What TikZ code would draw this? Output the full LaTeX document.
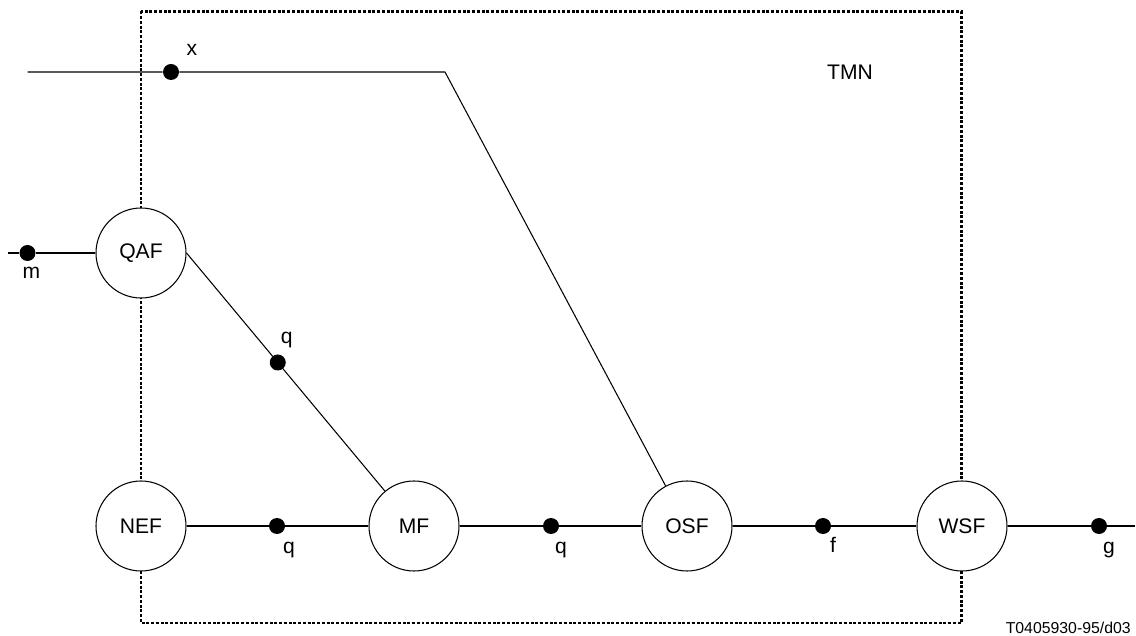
\documentclass[tikz,border=0pt]{standalone}
\usepackage{fontspec}
\setmainfont{Liberation Sans}
\usetikzlibrary{positioning}

\tikzset{
  func/.style={draw, circle, fill=white, line width=0.6pt, minimum size=1.8cm, inner sep=0pt, font=\fontsize{12}{14}\selectfont},
  dot/.style={circle, fill=black, minimum size=0.32cm, inner sep=0pt},
  lbl/.style={inner sep=0pt, font=\fontsize{12}{14}\selectfont},
  blbl/.style={lbl, anchor=base},
  link/.style={line width=0.6pt},
  tmnbox/.style={line width=1.7pt, dash pattern=on 1.7pt off 1.0pt}
}

\begin{document}
\begin{tikzpicture}
        \useasboundingbox (0,0) rectangle (22.72,12.7);

        % TMN boundary
        \draw[tmnbox] (2.82,12.47) rectangle (19.22,0.24);
        \node[lbl] (tmn) at (17.0,11.26) {TMN};

        % Function blocks
        \node[func] (QAF) at (2.82,7.64) {QAF};
        \node[func] (NEF) at (2.82,2.18) {NEF};
        \node[func] (MF) at (8.28,2.18) {MF};
        \node[func] (OSF) at (13.74,2.18) {OSF};
        \node[func] (WSF) at (19.24,2.18) {WSF};

        % Reference points
        \coordinate (xin) at (0.55,11.26);
        \coordinate (bend) at (8.9,11.26);
        \coordinate (min) at (0.16,7.64);
        \coordinate (gout) at (22.7,2.18);
        \node[dot] (dx) at (3.42,11.26) {};
        \node[dot] (dm) at (0.55,7.64) {};
        \node[dot] (dq2) at (5.54,2.18) {};
        \node[dot] (dq3) at (11.02,2.18) {};
        \node[dot] (df) at (16.46,2.18) {};
        \node[dot] (dg) at (21.98,2.18) {};

        % Connectors
        \draw[link] (xin) -- (dx) -- (bend) -- (OSF);
        \draw[link] (min) -- (dm) -- (QAF);
        \draw[link] (QAF.east) -- (MF) node[dot, pos=0.46] (dq1) {};
        \draw[link] (NEF) -- (dq2) -- (MF);
        \draw[link] (MF) -- (dq3) -- (OSF);
        \draw[link] (OSF) -- (df) -- (WSF);
        \draw[link] (WSF) -- (dg) -- (gout);

        % Point labels
        \node[blbl] (lx) at ([shift={(0.42,0.33)}]dx) {x};
        \node[blbl] (lm) at ([shift={(0.08,-0.52)}]dm) {m};
        \node[lbl] (lq1) at ([shift={(0.18,0.44)}]dq1) {q};
        \node[blbl] (lq2) at ([shift={(0.24,-0.55)}]dq2) {q};
        \node[blbl] (lq3) at ([shift={(0.2,-0.55)}]dq3) {q};
        \node[blbl] (lf) at ([shift={(0.2,-0.53)}]df) {f};
        \node[blbl] (lg) at ([shift={(0.2,-0.55)}]dg) {g};

        \node[inner sep=0pt, anchor=base east, font=\fontsize{9}{11}\selectfont] (fig) at (22.62,0.04) {T0405930-95/d03};

    \end{tikzpicture}
\end{document}
